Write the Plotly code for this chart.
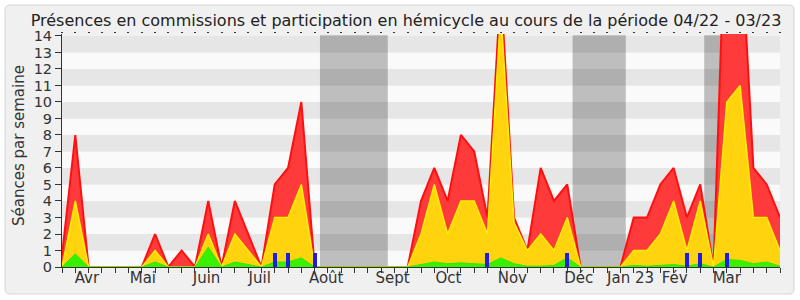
import plotly.graph_objects as go

# ---- data (weekly, 04/2022 -> 03/2023) ----
weeks = list(range(55))
presence_total = [0.7, 8, 0, 0, 0, 0, 0, 2, 0, 1, 0, 4, 0, 4, 2, 0, 5, 6, 10, 0,
                  0, 0, 0, 0, 0, 0, 0, 4, 6, 4, 8, 7, 3, 17, 3, 1, 6, 4, 5, 0,
                  0, 0, 0, 3, 3, 5, 6, 3, 5, 0, 24, 21, 6, 5, 3]
presence_comm = [0, 4, 0, 0, 0, 0, 0, 1, 0, 0, 0, 2, 0, 2, 1, 0, 3, 3, 5, 0,
                 0, 0, 0, 0, 0, 0, 0, 2, 5, 2, 4, 4, 2, 15.5, 2.7, 1, 2, 1, 3, 0,
                 0, 0, 0, 1, 1, 2, 4, 1, 4, 0, 10, 11, 3, 3, 1]
hemicycle = [0, 0.8, 0, 0, 0, 0, 0, 0.3, 0, 0, 0, 1.2, 0, 0.3, 0.15, 0, 0.3, 0.3, 0.55, 0,
             0, 0, 0, 0, 0, 0, 0, 0.15, 0.3, 0.2, 0.25, 0.2, 0.15, 0.55, 0.2, 0.05, 0.05, 0.1, 0.55, 0,
             0, 0, 0, 0.1, 0.05, 0.1, 0.15, 0.05, 0.2, 0, 0.45, 0.4, 0.2, 0.3, 0.05]
question_weeks = [16, 17, 19, 32, 38, 47, 48, 50]
question_values = [0.87] * len(question_weeks)
vacances = [(19.4, 24.5), (38.4, 42.4), (48.3, 50.3)]
month_labels = ["Avr", "Mai", "Juin", "Juil", "Août", "Sept", "Oct", "Nov", "Déc", "Jan 23", "Fév", "Mar"]
month_pos = [1.87, 6.08, 10.87, 14.87, 19.87, 24.87, 29.07, 33.87, 38.87, 42.76, 46.08, 50.0]
y_ticks = list(range(15))

FONT = "DejaVu Sans"
L, R, T, B = 62, 20, 34, 33
W, H = 800, 300
PW, PH = W - L - R, H - T - B

fig = go.Figure()

fig.add_trace(go.Scatter(x=weeks, y=presence_total, mode="lines", fill="tozeroy",
                         line=dict(color="#ff1010", width=2), fillcolor="#ff3a3a",
                         hoverinfo="skip", showlegend=False))
fig.add_trace(go.Scatter(x=weeks, y=presence_comm, mode="lines", fill="tozeroy",
                         line=dict(color="#ffee00", width=1.5), fillcolor="#ffd40e",
                         hoverinfo="skip", showlegend=False))
fig.add_trace(go.Scatter(x=weeks, y=hemicycle, mode="lines", fill="tozeroy",
                         line=dict(color="#33e600", width=1), fillcolor="#38f000",
                         hoverinfo="skip", showlegend=False))
# bars on the overlay subplot so they are drawn above the areas
fig.add_trace(go.Bar(x=question_weeks, y=question_values, width=0.3, xaxis="x2",
                     marker=dict(color="#1e1ee0", line=dict(width=0)),
                     hoverinfo="skip", showlegend=False))
fig.add_trace(go.Scatter(x=[0], y=[0], xaxis="x3", mode="markers", marker=dict(opacity=0),
                         hoverinfo="skip", showlegend=False))

shapes = []
# outer rounded frame (paper coords)
x0 = (5 - L) / PW; x1 = (794 - L) / PW
y0 = (T + PH - 294) / PH; y1 = (T + PH - 5) / PH
rx = 5 / PW; ry = 5 / PH
path = (f"M {x0+rx},{y0} L {x1-rx},{y0} Q {x1},{y0} {x1},{y0+ry} "
        f"L {x1},{y1-ry} Q {x1},{y1} {x1-rx},{y1} L {x0+rx},{y1} Q {x0},{y1} {x0},{y1-ry} "
        f"L {x0},{y0+ry} Q {x0},{y0} {x0+rx},{y0} Z")
shapes.append(dict(type="path", path=path, xref="paper", yref="paper",
                   fillcolor="#f0f0f0", line=dict(color="#d6d6d6", width=1), layer="below"))
# alternating bands
for k in range(14):
    shapes.append(dict(type="rect", xref="x", yref="y", x0=0, x1=54, y0=k, y1=k + 1,
                       fillcolor="#e6e6e6" if k % 2 == 1 else "#fafafa",
                       line=dict(width=0), layer="below"))
# holidays
for a, b in vacances:
    shapes.append(dict(type="rect", xref="x", yref="y", x0=a, x1=b, y0=0, y1=14.05,
                       fillcolor="rgba(0,0,0,0.24)", line=dict(width=0), layer="below"))

fig.update_layout(
    width=W, height=H,
    margin=dict(l=L, r=R, t=T, b=B),
    paper_bgcolor="#ffffff",
    plot_bgcolor="rgba(0,0,0,0)",
    font=dict(family=FONT, color="#333333"),
    shapes=shapes,
    bargap=0,
    title=dict(text="Présences en commissions et participation en hémicycle au cours de la période 04/22 - 03/23",
               x=406 / W, xref="container", xanchor="center",
               y=1 - 20 / H, yref="container", yanchor="middle",
               font=dict(family=FONT, size=16, color="#222222")),
    xaxis=dict(range=[0, 54], tickmode="array", tickvals=weeks, showticklabels=False,
               ticks="outside", ticklen=5, tickcolor="#333333", tickwidth=1,
               showline=True, linecolor="#333333", linewidth=1,
               showgrid=False, zeroline=False, fixedrange=True),
    xaxis2=dict(range=[0, 54], overlaying="x", side="top", tickmode="array", tickvals=weeks,
                showticklabels=False, ticks="outside", ticklen=1.5, tickwidth=1.5, tickcolor="#333333",
                showline=False, showgrid=False, zeroline=False),
    xaxis3=dict(range=[0, 54], overlaying="x", side="bottom", tickmode="array", tickvals=month_pos,
                ticktext=month_labels, ticks="", showline=False, showgrid=False, zeroline=False,
                tickfont=dict(family=FONT, size=15, color="#333333")),
    yaxis=dict(range=[0, 14.12], tickmode="array", tickvals=y_ticks,
               ticks="outside", ticklen=6, tickcolor="#333333",
               showline=True, linecolor="#333333", linewidth=1,
               showgrid=False, zeroline=False,
               tickfont=dict(family=FONT, size=14.5, color="#333333")),
    annotations=[dict(text="Séances par semaine", xref="paper", yref="paper",
                      x=(19 - L) / PW, y=(T + PH - 146) / PH, textangle=-90,
                      showarrow=False, xanchor="center", yanchor="middle",
                      font=dict(family=FONT, size=15, color="#333333"))],
)

fig.write_html("out.html")
